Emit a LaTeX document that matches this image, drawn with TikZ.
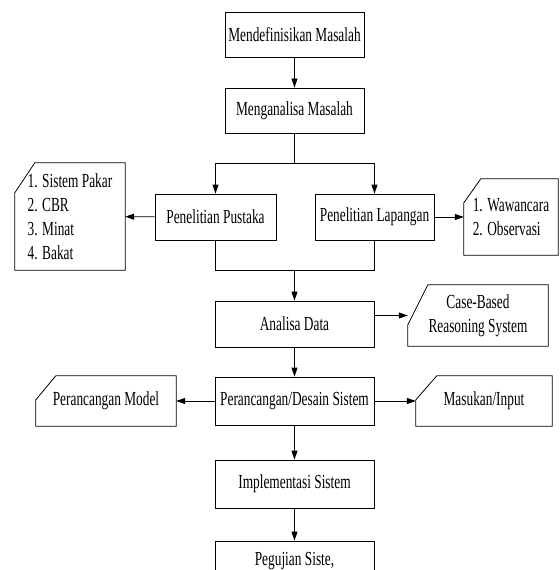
\documentclass[tikz,border=0pt]{standalone}
\usepackage{fontspec}
\setmainfont{Liberation Serif}[FakeStretch=0.67]
\usetikzlibrary{arrows.meta}

\begin{document}
\begin{tikzpicture}[x=1bp, y=-1bp, >={Triangle[length=9bp,width=6bp]}, font=\fontsize{20}{24}\selectfont]
    % Gaya
    \tikzstyle{box}=[rectangle, draw=black, line width=0.8bp, minimum width=159bp, minimum height=46bp, inner sep=2bp]
    \tikzstyle{note}=[rectangle, inner sep=2bp, align=left]
    \tikzstyle{arrow}=[->, line width=0.8bp]
    \tikzstyle{line}=[line width=0.8bp]

    \useasboundingbox (0,0) rectangle (560,570);

    % Kotak utama
    \node[box, minimum width=139bp, minimum height=45bp] (definisi) at (294.5,34.5) {Mendefinisikan Masalah};
    \node[box, minimum width=139bp, minimum height=45bp] (masalah) at (294.5,110.5) {Menganalisa Masalah};
    \node[box, minimum width=121bp] (pustaka) at (215.5,217) {Penelitian Pustaka};
    \node[box, minimum width=119bp] (lapangan) at (374.5,217) {Penelitian Lapangan};
    \node[box] (data) at (294.5,324) {Analisa Data};
    \node[box, minimum height=48bp] (desain) at (294.5,401) {Perancangan/Desain Sistem};
    \node[box, minimum height=48bp] (implementasi) at (294.5,484) {Implementasi Sistem};
    \node[box, minimum height=40bp] (pengujian) at (294.5,561) {Pegujian Siste,};

    % Catatan (sudut terpotong)
    \node[note, minimum width=110bp, minimum height=107bp] (pakar) at (70,216.5) {1. Sistem Pakar\\2. CBR\\3. Minat\\4. Bakat};
    \node[note, minimum width=94bp, minimum height=76bp] (wawancara) at (511,217) {1. Wawancara\\2. Observasi};
    \node[note, align=center, minimum width=140bp, minimum height=61bp] (cbr) at (478,315.5) {Case-Based\\Reasoning System};
    \node[note, minimum width=140bp, minimum height=50bp] (model) at (106,401) {Perancangan Model};
    \node[note, minimum width=136bp, minimum height=50bp] (masukan) at (484,401) {Masukan/Input};
    \foreach \n/\cx/\cy in {pakar/20/30, wawancara/17/24, cbr/20/40, model/20/24, masukan/21/24}
        \draw[line] ([xshift=\cx bp]\n.north west) -- (\n.north east) -- (\n.south east)
            -- (\n.south west) -- ([yshift=-\cy bp]\n.north west) -- cycle;

    % Panah
    \coordinate (pisah) at (294.5,163);
    \coordinate (gabung) at (294.5,270);
    \draw[arrow] (definisi) -- (masalah);
    \draw[line] (masalah) -- (pisah);
    \draw[arrow] (pisah) -| (pustaka);
    \draw[arrow] (pisah) -| (lapangan);
    \draw[arrow] (pustaka) -- (pakar);
    \draw[arrow] (lapangan) -- (wawancara);
    \draw[line] (pustaka) |- (gabung);
    \draw[line] (lapangan) |- (gabung);
    \draw[arrow] (gabung) -- (data);
    \draw[arrow] (data.east |- cbr.west) -- (cbr.west);
    \draw[arrow] (data) -- (desain);
    \draw[arrow] (desain) -- (model);
    \draw[arrow] (desain) -- (masukan);
    \draw[arrow] (desain) -- (implementasi);
    \draw[arrow] (implementasi) -- (pengujian);

\end{tikzpicture}
\end{document}
